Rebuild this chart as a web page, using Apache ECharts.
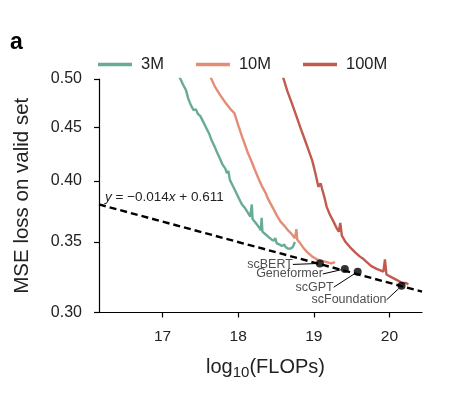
<!DOCTYPE html>
<html>
<head>
<meta charset="utf-8">
<script src="https://cdn.jsdelivr.net/npm/echarts@6/dist/echarts.min.js"></script>
<style>
html,body{margin:0;padding:0;background:#fff;}
#c{width:449px;height:393px;}
</style>
</head>
<body>
<div id="c"></div>
<script>
// ---- data ----
const seriesNames = ['3M', '10M', '100M'];

const x3M = [17.22,17.27,17.31,17.34,17.37,17.41,17.44,17.47,17.50,17.54,17.58,17.62,17.65,17.69,17.72,17.76,17.79,17.83,17.85,17.87,17.89,17.92,17.95,17.98,18.01,18.05,18.09,18.13,18.16,18.18,18.19,18.23,18.27,18.30,18.31,18.32,18.36,18.40,18.44,18.47,18.49,18.51,18.55,18.58,18.61,18.63,18.66,18.69,18.72,18.75];
const y3M = [0.503,0.494,0.488,0.479,0.473,0.467,0.468,0.463,0.461,0.455,0.449,0.443,0.437,0.431,0.426,0.420,0.415,0.411,0.407,0.409,0.401,0.397,0.393,0.389,0.385,0.380,0.377,0.373,0.370,0.380,0.368,0.365,0.362,0.359,0.369,0.358,0.356,0.354,0.352,0.351,0.353,0.349,0.348,0.347,0.348,0.346,0.345,0.345,0.346,0.350];

const x10M = [17.63,17.69,17.76,17.83,17.91,17.95,18.00,18.05,18.09,18.13,18.18,18.22,18.27,18.31,18.36,18.40,18.46,18.51,18.56,18.62,18.66,18.71,18.75,18.77,18.78,18.82,18.87,18.92,18.98,19.04,19.10,19.17,19.23,19.28];
const y10M = [0.503,0.492,0.483,0.475,0.467,0.464,0.452,0.441,0.433,0.425,0.417,0.410,0.402,0.396,0.390,0.384,0.377,0.371,0.366,0.362,0.359,0.356,0.353,0.360,0.352,0.349,0.345,0.342,0.339,0.337,0.336,0.335,0.334,0.335];

const x100M = [18.59,18.65,18.71,18.77,18.82,18.88,18.93,18.98,19.02,19.06,19.09,19.11,19.14,19.17,19.21,19.26,19.30,19.33,19.35,19.37,19.42,19.48,19.55,19.61,19.66,19.70,19.76,19.83,19.88,19.92,19.94,19.96,20.03,20.10,20.17,20.22,20.25];
const y100M = [0.503,0.487,0.474,0.461,0.450,0.438,0.428,0.418,0.407,0.395,0.398,0.393,0.386,0.378,0.372,0.366,0.361,0.358,0.365,0.355,0.350,0.346,0.342,0.339,0.337,0.335,0.332,0.330,0.329,0.328,0.337,0.326,0.324,0.322,0.320,0.320,0.319];

const fitX = [16.16, 20.43];
const fitY = [0.380, 0.314];

const modelNames = ['scBERT', 'Geneformer', 'scGPT', 'scFoundation'];
const modelX = [19.08, 19.41, 19.58, 20.16];
const modelY = [0.334, 0.330, 0.328, 0.318];

const xTicks = [17, 18, 19, 20];
const yTicks = [0.30, 0.35, 0.40, 0.45, 0.50];

// ---- layout / style (not data) ----
const colors = ['#68ab96', '#e38d76', '#c25a50'];
const labelShift = [[-23, 1], [-18, 5], [-20, 15.5], [-11, 14]];
const FONT = '"Liberation Sans", Arial, sans-serif';
const L = v => Math.log10(v);
const pair = (xs, ys) => xs.map((x, i) => [x, L(ys[i])]);

const chart = echarts.init(document.getElementById('c'), null, {renderer: 'canvas'});

const curveX = [x3M, x10M, x100M];
const curveY = [y3M, y10M, y100M];

const series = seriesNames.map((n, k) => ({
  name: n,
  type: 'line',
  symbol: 'none',
  showSymbol: false,
  data: pair(curveX[k], curveY[k]),
  lineStyle: {color: colors[k], width: 2.4},
  itemStyle: {color: colors[k]},
  z: 2,
  animation: false
}));

series.push({
  name: 'fit',
  type: 'line',
  symbol: 'none',
  data: pair(fitX, fitY),
  lineStyle: {color: '#000', width: 2.4, type: [7, 4]},
  z: 3,
  animation: false
});

series.push({
  name: 'models',
  type: 'scatter',
  symbolSize: 8,
  itemStyle: {color: '#000'},
  data: modelX.map((x, i) => ({name: modelNames[i], value: [x, L(modelY[i])]})),
  label: {
    show: true,
    position: 'left',
    distance: 0,
    formatter: p => p.name,
    fontFamily: FONT,
    fontSize: 12.5,
    color: '#222'
  },
  labelLayout: p => ({dx: labelShift[p.dataIndex][0], dy: labelShift[p.dataIndex][1]}),
  labelLine: {show: true, lineStyle: {color: '#000', width: 1}},
  z: 4,
  animation: false
});

chart.setOption({
  animation: false,
  textStyle: {fontFamily: FONT},
  grid: {left: 99, right: 27, top: 79, bottom: 80.5, containLabel: false},
  legend: {
    data: seriesNames.map(n => ({name: n, icon: 'rect'})),
    left: 93,
    top: 51,
    itemWidth: 34,
    itemHeight: 3.5,
    itemGap: 32,
    textStyle: {fontFamily: FONT, fontSize: 16.5, color: '#222', padding: [0, 0, 0, 4]}
  },
  xAxis: {
    type: 'value',
    min: 16.16,
    max: 20.43,
    axisLine: {show: true, lineStyle: {color: '#000', width: 1.2}},
    axisTick: {show: true, length: 5, customValues: xTicks, lineStyle: {color: '#000', width: 1.2}},
    axisLabel: {customValues: xTicks, formatter: v => String(Math.round(v)), fontSize: 15.5, color: '#222', margin: 16, fontFamily: FONT},
    splitLine: {show: false},
    name: '{m|log}{s|10}{m|(FLOPs)}',
    nameLocation: 'middle',
    nameGap: 41,
    nameTextStyle: {
      padding: [0, 0, 0, 10],
      rich: {
        m: {fontSize: 20, lineHeight: 27, color: '#222', fontFamily: FONT},
        s: {fontSize: 15, lineHeight: 15, padding: [12, 0, 0, 0], color: '#222', fontFamily: FONT}
      }
    }
  },
  yAxis: {
    type: 'value',
    min: L(0.30),
    max: L(0.50),
    axisLine: {show: true, lineStyle: {color: '#000', width: 1.2}},
    axisTick: {show: true, length: 5, customValues: yTicks.map(L), lineStyle: {color: '#000', width: 1.2}},
    axisLabel: {customValues: yTicks.map(L), formatter: v => Math.pow(10, v).toFixed(2), fontSize: 16, color: '#222', margin: 17, fontFamily: FONT},
    splitLine: {show: false},
    name: 'MSE loss on valid set',
    nameLocation: 'middle',
    nameGap: 66,
    nameTextStyle: {fontSize: 20.5, color: '#222', fontFamily: FONT}
  },
  graphic: [
    {type: 'text', x: 10, y: 43, style: {text: 'a', font: 'bold 23px ' + FONT, fill: '#000', verticalAlign: 'middle'}},
    {type: 'text', x: 105, y: 197, style: {
      text: '{i|y} = −0.014{i|x} + 0.611',
      fill: '#222', fontSize: 13.5, fontFamily: FONT, verticalAlign: 'middle',
      rich: {i: {fontStyle: 'italic', fontSize: 13.5, fontFamily: FONT, fill: '#222'}}
    }}
  ],
  series: series
});
</script>
</body>
</html>
